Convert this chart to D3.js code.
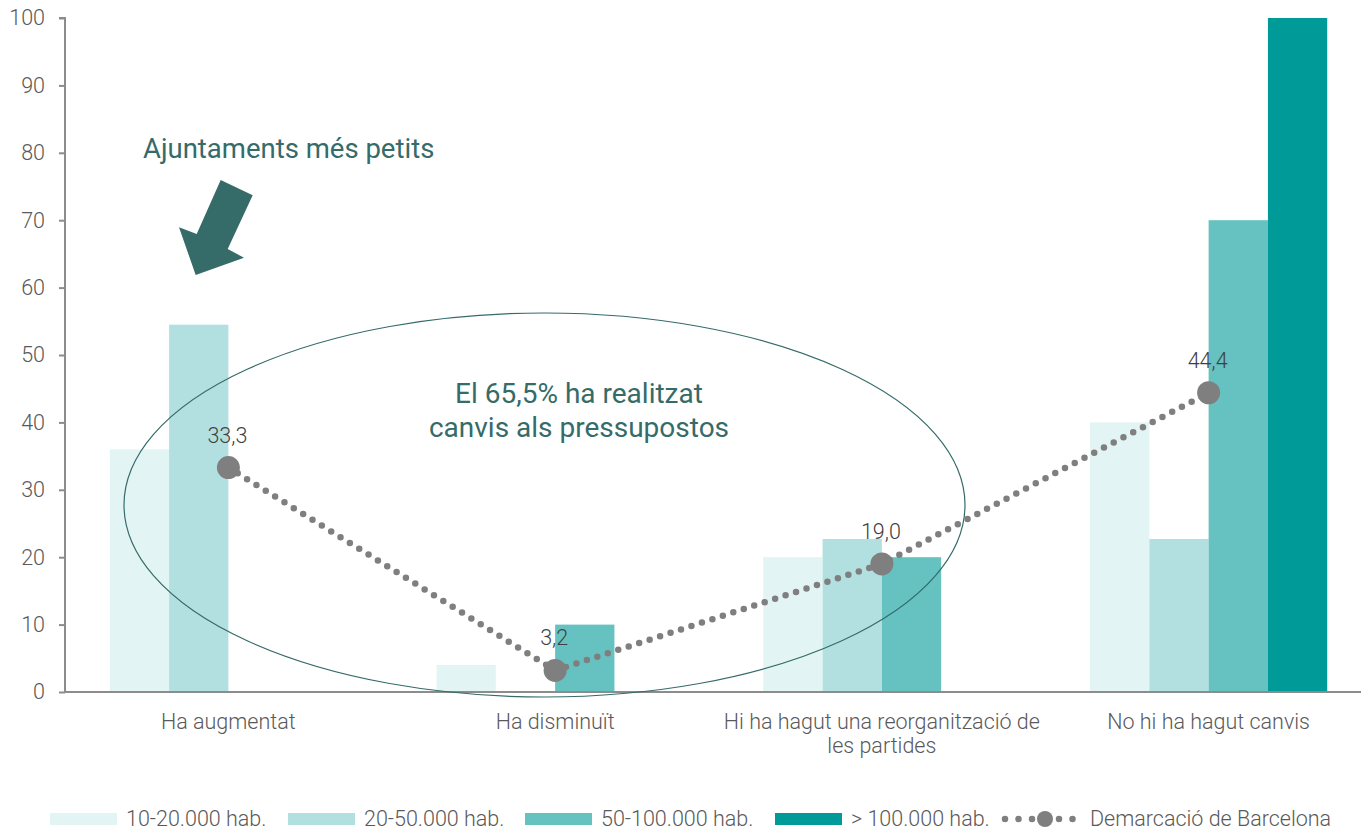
<!DOCTYPE html>
<html>
<head>
<meta charset="utf-8">
<script src="https://cdn.jsdelivr.net/npm/d3@7"></script>
<style>
  html, body { margin: 0; padding: 0; background: #fff; }
  svg { display: block; font-family: Roboto, "Liberation Sans", sans-serif; font-weight: 300; }
</style>
</head>
<body>
<svg id="chart" width="1361" height="832"></svg>
<script>
const categories = [
  ["Ha augmentat"],
  ["Ha disminuït"],
  ["Hi ha hagut una reorganització de", "les partides"],
  ["No hi ha hagut canvis"]
];
const seriesNames = ["10-20.000 hab.", "20-50.000 hab.", "50-100.000 hab.", "> 100.000 hab."];
const series1 = [36.0, 4.0, 20.0, 40.0];
const series2 = [54.5, 0, 22.7, 22.7];
const series3 = [0, 10.0, 20.0, 70.0];
const series4 = [0, 0, 0, 100.0];
const lineName = "Demarcació de Barcelona";
const lineValues = [33.3, 3.2, 19.0, 44.4];
const lineLabels = ["33,3", "3,2", "19,0", "44,4"];
const yTicks = [0, 10, 20, 30, 40, 50, 60, 70, 80, 90, 100];
const colors = ["#e3f4f4", "#b2e0e0", "#66c2c0", "#009b98"];
const lineColor = "#7f7f7f";
const accent = "#356b69";

(function () {
const svg = d3.select("#chart");
const mLeft = 65, mRight = 1372, mTop = 18, mBottom = 692;
const fs = 21.5;
const catIdx = d3.range(categories.length);
const x0 = d3.scaleBand().domain(catIdx).range([mLeft, mRight]).padding(0);
const x1 = d3.scaleBand().domain(d3.range(seriesNames.length)).range([0, x0.bandwidth()]).paddingInner(0).paddingOuter(0.755);
const y = d3.scaleLinear().domain([0, 100]).range([mBottom, mTop]);
const allSeries = [series1, series2, series3, series4];

// bars
allSeries.forEach((vals, si) => {
  svg.append("g").selectAll("rect").data(vals).join("rect")
    .attr("x", (d, i) => x0(i) + x1(si))
    .attr("y", d => y(d))
    .attr("width", x1.bandwidth())
    .attr("height", d => y(0) - y(d))
    .attr("fill", colors[si]);
});

// y axis
const yAxis = svg.append("g").attr("transform", `translate(${mLeft},0)`)
  .call(d3.axisLeft(y).tickValues(yTicks).tickSize(6).tickPadding(14).tickFormat(d3.format("d")));
yAxis.select(".domain").attr("stroke", "#8c8c8c").attr("stroke-width", 2).attr("d", `M-6,${mTop}H0V${mBottom}`);
yAxis.selectAll(".tick line").attr("stroke", "#8c8c8c").attr("stroke-width", 2);
yAxis.selectAll(".tick text").attr("fill", "#595959").attr("font-size", fs).attr("font-family", "Roboto, sans-serif").attr("font-weight", 300);

// x axis baseline
svg.append("line").attr("x1", mLeft).attr("x2", 1361).attr("y1", y(0)).attr("y2", y(0))
  .attr("stroke", "#8c8c8c").attr("stroke-width", 2);

// category labels
const catG = svg.append("g");
categories.forEach((lines, i) => {
  const t = catG.append("text").attr("text-anchor", "middle").attr("fill", "#595959").attr("font-size", fs)
    .attr("x", x0(i) + x0.bandwidth() / 2).attr("y", 729);
  lines.forEach((ln, k) => t.append("tspan").attr("x", x0(i) + x0.bandwidth() / 2).attr("dy", k === 0 ? 0 : 24).text(ln));
});

// ellipse annotation
svg.append("ellipse").attr("cx", 544.5).attr("cy", 505).attr("rx", 420.5).attr("ry", 192)
  .attr("fill", "none").attr("stroke", accent).attr("stroke-width", 1.2);
const ann = svg.append("text").attr("text-anchor", "middle").attr("fill", accent).attr("font-size", 28).attr("font-weight", 400);
ann.append("tspan").attr("x", 579).attr("y", 403).text("El 65,5% ha realitzat");
ann.append("tspan").attr("x", 579).attr("y", 437).text("canvis als pressupostos");

// line series
const cx = i => x0(i) + x0.bandwidth() / 2;
const lineGen = d3.line().x((d, i) => cx(i)).y(d => y(d));
svg.append("path").datum(lineValues).attr("d", lineGen)
  .attr("fill", "none").attr("stroke", lineColor).attr("stroke-width", 6.5)
  .attr("stroke-linecap", "round").attr("stroke-dasharray", "0 11");
svg.append("g").selectAll("circle").data(lineValues).join("circle")
  .attr("cx", (d, i) => cx(i)).attr("cy", d => y(d)).attr("r", 11.5).attr("fill", lineColor);
svg.append("g").selectAll("text").data(lineValues).join("text")
  .attr("x", (d, i) => cx(i) - 1).attr("y", d => y(d) - 25)
  .attr("text-anchor", "middle").attr("fill", "#404040").attr("font-size", fs)
  .text((d, i) => lineLabels[i]);

// arrow annotation
svg.append("text").attr("x", 143).attr("y", 158).attr("fill", accent).attr("font-size", 27.5).attr("font-weight", 400)
  .text("Ajuntaments més petits");
svg.append("polygon")
  .attr("points", "220.7,180 252.7,195.3 227.7,249 244,257.7 195.7,275 179,227.3 196.7,234")
  .attr("fill", accent);

// legend
const legend = svg.append("g").attr("font-size", fs).attr("fill", "#595959");
const legendX = [50, 288, 525, 775];
seriesNames.forEach((name, i) => {
  legend.append("rect").attr("x", legendX[i]).attr("y", 813).attr("width", 67).attr("height", 12).attr("fill", colors[i]);
  legend.append("text").attr("x", legendX[i] + 76).attr("y", 826).attr("fill", "#595959").text(name);
});
legend.append("line").attr("x1", 1005).attr("x2", 1075).attr("y1", 819).attr("y2", 819)
  .attr("stroke", lineColor).attr("stroke-width", 6.5).attr("stroke-linecap", "round").attr("stroke-dasharray", "0 13.5");
legend.append("circle").attr("cx", 1045).attr("cy", 819).attr("r", 8).attr("fill", lineColor);
legend.append("text").attr("x", 1090).attr("y", 826).attr("fill", "#595959").text(lineName);
})();
</script>
</body>
</html>
